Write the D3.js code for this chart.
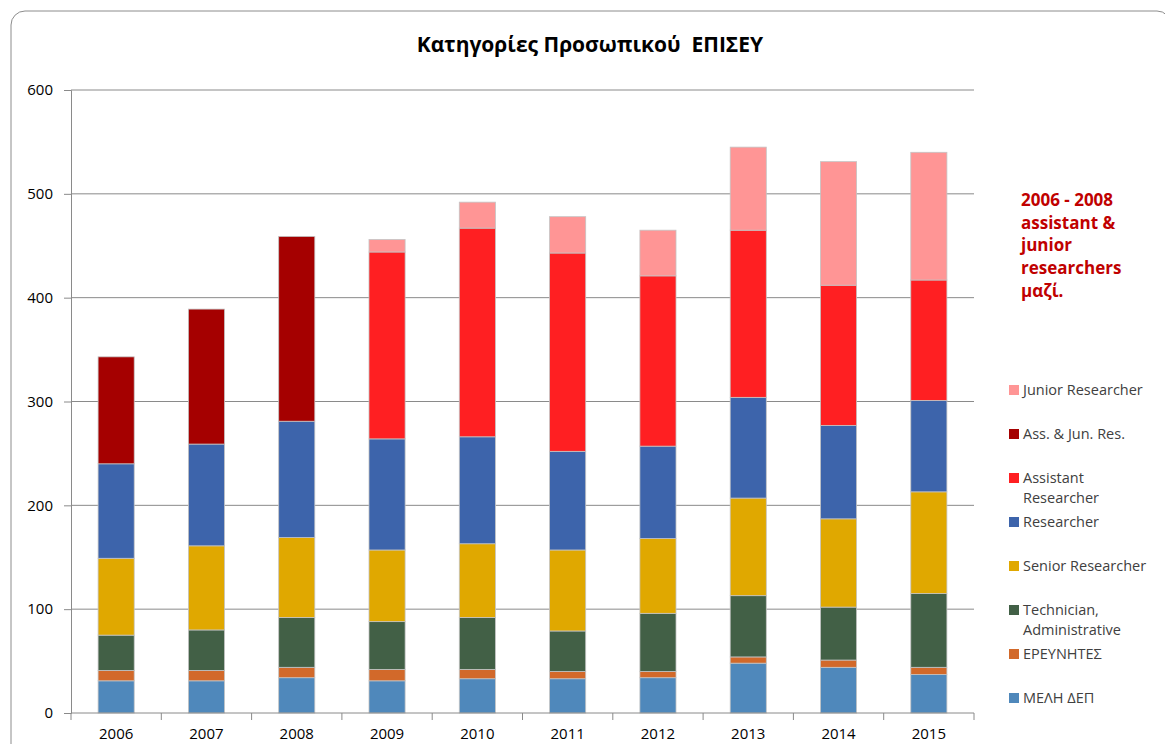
<!DOCTYPE html>
<html>
<head>
<meta charset="utf-8">
<script src="https://cdn.jsdelivr.net/npm/d3@7"></script>
<style>
  body { margin: 0; background: #fff; }
  text { font-family: "Open Sans", "Liberation Sans", sans-serif; }
</style>
</head>
<body>
<figure id="chart" style="margin:0"></figure>
<script>
// data
const years = ["2006", "2007", "2008", "2009", "2010", "2011", "2012", "2013", "2014", "2015"]
const seriesNames = ["ΜΕΛΗ ΔΕΠ", "ΕΡΕΥΝΗΤΕΣ", "Technician, Administrative", "Senior Researcher",
  "Researcher", "Assistant Researcher", "Ass. & Jun. Res.", "Junior Researcher"]
const meliDep     = [31, 31, 34, 31, 33, 33, 34, 48, 44, 37]
const erevnites   = [10, 10, 10, 11, 9, 7, 6, 6, 7, 7]
const technician  = [34, 39, 48, 46, 50, 39, 56, 59, 51, 71]
const senior      = [74, 81, 77, 69, 71, 78, 72, 94, 85, 98]
const researcher  = [91, 98, 112, 107, 103, 95, 89, 97, 90, 88]
const assistant   = [0, 0, 0, 180, 201, 191, 164, 161, 135, 116]
const assJun      = [103, 130, 178, 0, 0, 0, 0, 0, 0, 0]
const junior      = [0, 0, 0, 12, 25, 35, 44, 80, 119, 123]
const yTicks = [0, 100, 200, 300, 400, 500, 600]

const colors = ["#4f88bb", "#d2692a", "#426046", "#e0a800", "#3d64ab", "#ff1f22", "#a50000", "#ff9595"]
const allSeries = [meliDep, erevnites, technician, senior, researcher, assistant, assJun, junior]

const width = 1165, height = 744
const plotLeft = 71, plotRight = 974, plotTop = 90, plotBottom = 713

const svg = d3.select("#chart").append("svg")
  .attr("width", width).attr("height", height)

// outer chart frame (rounded)
svg.append("rect")
  .attr("x", 11).attr("y", 11).attr("width", 1160).attr("height", 760)
  .attr("rx", 14).attr("fill", "none").attr("stroke", "#8c8c8c").attr("stroke-width", 1)

svg.append("text")
  .attr("x", 590).attr("y", 52).attr("text-anchor", "middle")
  .style("font-size", "21px").style("font-weight", "bold").style("white-space", "pre")
  .attr("fill", "#000")
  .text("Κατηγορίες Προσωπικού  ΕΠΙΣΕΥ")

const x = d3.scaleBand().domain(years).range([plotLeft, plotRight]).paddingInner(0.6).paddingOuter(0.3)
const y = d3.scaleLinear().domain([0, 600]).range([plotBottom, plotTop])

// gridlines
svg.append("g")
  .selectAll("line").data(yTicks.slice(1)).enter().append("line")
  .attr("x1", plotLeft).attr("x2", plotRight)
  .attr("y1", d => y(d)).attr("y2", d => y(d))
  .attr("stroke", "#8a8a8a").attr("stroke-width", 1)

const yAxis = svg.append("g")
  .attr("transform", "translate(" + plotLeft + ",0)")
  .call(d3.axisLeft(y).tickValues(yTicks).tickSize(7).tickPadding(11))
yAxis.selectAll("line, path").attr("stroke", "#8a8a8a")
yAxis.selectAll("text").style("font-size", "15px").attr("fill", "#000")

// stacked bars
const table = years.map((yr, i) => {
  const row = { year: yr }
  seriesNames.forEach((s, k) => { row[s] = allSeries[k][i] })
  return row
})
const stacked = d3.stack().keys(seriesNames)(table)

svg.append("g").selectAll("g").data(stacked).enter().append("g")
  .attr("fill", (d, i) => colors[i])
  .selectAll("rect").data(d => d.filter(p => p[1] > p[0])).enter().append("rect")
  .attr("x", d => x(d.data.year))
  .attr("width", x.bandwidth())
  .attr("y", d => y(d[1]))
  .attr("height", d => y(d[0]) - y(d[1]))
  .attr("stroke", "#c4c4c4").attr("stroke-width", 0.8)

// x axis with ticks between categories
const xAxisG = svg.append("g").attr("transform", "translate(0," + plotBottom + ")")
xAxisG.append("line").attr("x1", plotLeft).attr("x2", plotRight).attr("stroke", "#8a8a8a")
xAxisG.selectAll("line.tick").data(d3.range(years.length + 1)).enter().append("line")
  .attr("class", "tick")
  .attr("x1", i => plotLeft + i * (plotRight - plotLeft) / years.length)
  .attr("x2", i => plotLeft + i * (plotRight - plotLeft) / years.length)
  .attr("y1", 0).attr("y2", 7).attr("stroke", "#8a8a8a")
xAxisG.selectAll("text").data(years).enter().append("text")
  .attr("x", d => x(d) + x.bandwidth() / 2).attr("y", 26)
  .attr("text-anchor", "middle").style("font-size", "15px").attr("fill", "#000")
  .text(d => d)

// legend (top to bottom in reverse order)
const legendItems = [
  { name: "Junior Researcher", lines: ["Junior Researcher"], y: 390 },
  { name: "Ass. & Jun. Res.", lines: ["Ass. & Jun. Res."], y: 434 },
  { name: "Assistant Researcher", lines: ["Assistant", "Researcher"], y: 478 },
  { name: "Researcher", lines: ["Researcher"], y: 522 },
  { name: "Senior Researcher", lines: ["Senior Researcher"], y: 566 },
  { name: "Technician, Administrative", lines: ["Technician,", "Administrative"], y: 610 },
  { name: "ΕΡΕΥΝΗΤΕΣ", lines: ["ΕΡΕΥΝΗΤΕΣ"], y: 654 },
  { name: "ΜΕΛΗ ΔΕΠ", lines: ["ΜΕΛΗ ΔΕΠ"], y: 698 }
]
const lg = svg.append("g").selectAll("g").data(legendItems).enter().append("g")
lg.append("rect")
  .attr("x", 1009).attr("y", d => d.y - 5).attr("width", 10).attr("height", 10)
  .attr("fill", d => colors[seriesNames.indexOf(d.name)])
lg.each(function (d) {
  d3.select(this).selectAll("text").data(d.lines).enter().append("text")
    .attr("x", 1023).attr("y", (t, j) => d.y + 5 + j * 19.5)
    .style("font-size", "14.5px").attr("fill", "#404040")
    .text(t => t)
})

// annotation
const note = ["2006 - 2008", "assistant &", "junior", "researchers", "μαζί."]
svg.append("g").selectAll("text").data(note).enter().append("text")
  .attr("x", 1021).attr("y", (d, i) => 206 + i * 22.7)
  .style("font-size", "17px").style("font-weight", "bold").attr("fill", "#c00000")
  .text(d => d)
</script>
</body>
</html>
